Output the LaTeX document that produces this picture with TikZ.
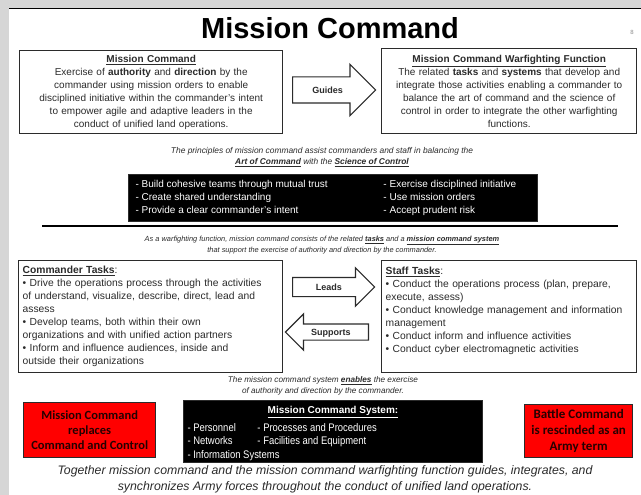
\documentclass[tikz,border=0pt]{standalone}
\usepackage{fontspec}
\setmainfont{Liberation Sans}
\newfontfamily\calibri{Carlito}
\newfontfamily\narrowfont[FakeStretch=0.86]{Liberation Sans}
\usetikzlibrary{shapes.arrows}
\definecolor{ink}{HTML}{2B2B2B}
\definecolor{pagegray}{HTML}{D6D6D6}
\definecolor{alertred}{HTML}{FF0000}
\begin{document}
\begin{tikzpicture}[x=1pt,y=-1pt]
  \tikzstyle{every node}=[text=ink,inner sep=0pt]
  \tikzstyle{box}=[draw=ink,line width=1.4pt,anchor=north west,inner sep=4pt,font=\fontsize{10}{13}\selectfont]
  \tikzstyle{taskbox}=[box,align=left,font=\fontsize{10.3}{13}\selectfont]
  \tikzstyle{note}=[align=center,font=\itshape\fontsize{7.4}{11}\selectfont]
  \tikzstyle{bigarrow}=[single arrow,draw=ink,line width=1.2pt,single arrow head indent=0pt,anchor=tail,text height=6.5pt,text depth=0pt,font=\bfseries\fontsize{9}{10}\selectfont]
  \tikzstyle{blackbox}=[fill=black,draw=ink,line width=1pt,text=white,anchor=north west]
  \tikzstyle{redbox}=[fill=alertred,draw=ink,line width=1.4pt,align=center,anchor=north west,text=black!85!red]
  \useasboundingbox (0,0) rectangle (641,495);
  \fill[white] (0,0) rectangle (641,495);
  \fill[pagegray] (0,0) rectangle (641,8);
  \fill[pagegray] (0,0) rectangle (9,495);
  \coordinate (top west) at (9,8.5);
  \coordinate (top east) at (641,8.5);
  \draw[line width=1.5pt,black] (top west) -- (top east);
  \node[font=\bfseries\fontsize{29}{30}\selectfont,text=black] (title) at (330,28) {Mission Command};
  \node[font=\fontsize{6}{7}\selectfont,text=black!45] (pagenum) at (632,32) {8};
  \node[box,align=center,minimum width=263pt,minimum height=83pt,text width=255pt] (mc) at (19,50)
    {\underline{\textbf{Mission Command}}\\
     Exercise of \textbf{authority} and \textbf{direction} by the\\
     commander using mission orders to enable\\
     disciplined initiative within the commander's intent\\
     to empower agile and adaptive leaders in the\\
     conduct of unified land operations.};
  \node[box,align=center,minimum width=255pt,minimum height=85pt,text width=247pt] (mcwf) at (381,48)
    {\underline{\textbf{Mission Command Warfighting Function}}\\
     The related \textbf{tasks} and \textbf{systems} that develop and\\
     integrate those activities enabling a commander to\\
     balance the art of command and the science of\\
     control in order to integrate the other warfighting\\
     functions.};
  \node[bigarrow,inner ysep=9.25pt,minimum height=83pt,single arrow head extend=12.5pt] (guides) at (292,90) {Guides};
  \node[note,font=\itshape\fontsize{8.4}{11}\selectfont] (principles note) at (322,157)
    {The principles of mission command assist commanders and staff in balancing the\\
     \underline{\textbf{Art of Command}} with the \underline{\textbf{Science of Control}}};
  \node[blackbox,minimum width=409pt,minimum height=47pt,font=\fontsize{10}{13}\selectfont] (principles) at (128,174)
    {\begin{tabular}{@{}p{248pt}@{}p{147pt}@{}}
     - Build cohesive teams through mutual trust & - Exercise disciplined initiative\\
     - Create shared understanding & - Use mission orders\\
     - Provide a clear commander's intent & - Accept prudent risk
     \end{tabular}};
  \coordinate (rule west) at (42,226);
  \coordinate (rule east) at (618,226);
  \draw[line width=2.5pt,black] (rule west) -- (rule east);
  \node[note] (function note) at (322,245)
    {As a warfighting function, mission command consists of the related \underline{\textbf{tasks}} and a \underline{\textbf{mission command system}}\\
     that support the exercise of authority and direction by the commander.};
  \node[taskbox,minimum width=264pt,minimum height=112pt,text width=256pt] (commander) at (18,260)
    {\underline{\textbf{Commander Tasks}}:\\
     • Drive the operations process through the activities\\
     of understand, visualize, describe, direct, lead and\\
     assess\\
     • Develop teams, both within their own\\
     organizations and with unified action partners\\
     • Inform and influence audiences, inside and\\
     outside their organizations};
  \node[taskbox,minimum width=255pt,minimum height=112pt,text width=247pt] (staff) at (381,260)
    {\underline{\textbf{Staff Tasks}}:\\
     • Conduct the operations process (plan, prepare,\\
     execute, assess)\\
     • Conduct knowledge management and information\\
     management\\
     • Conduct inform and influence activities\\
     • Conduct cyber electromagnetic activities\\
     \mbox{}};
  \node[bigarrow,inner ysep=5.75pt,minimum height=82pt,single arrow head extend=9.5pt] (leads) at (292,287) {Leads};
  \node[bigarrow,shape border rotate=180,inner ysep=4.25pt,minimum height=83pt,single arrow head extend=10pt] (supports) at (369,332) {Supports};
  \node[note,font=\itshape\fontsize{8.2}{11}\selectfont] (system note) at (323,386)
    {The mission command system \underline{\textbf{enables}} the exercise\\
     of authority and direction by the commander.};
  \node[redbox,minimum width=132pt,minimum height=55pt,font=\calibri\bfseries\fontsize{12.5}{15}\selectfont] (replaces) at (23,402)
    {Mission Command\\ replaces\\ Command and Control};
  \node[blackbox,minimum width=299pt,minimum height=62pt,font=\fontsize{10}{13.5}\selectfont] (mcsystem) at (183,400)
    {\begin{tabular}{@{}p{70pt}@{}p{221pt}@{}}
     \multicolumn{2}{@{}c@{}}{\rule{0pt}{13pt}\underline{\textbf{Mission Command System:}}}\\[4pt]
     \narrowfont\fontsize{11}{13.5}\selectfont - Personnel & \narrowfont\fontsize{11}{13.5}\selectfont - Processes and Procedures\\
     \narrowfont\fontsize{11}{13.5}\selectfont - Networks & \narrowfont\fontsize{11}{13.5}\selectfont - Facilities and Equipment\\
     \multicolumn{2}{@{}l@{}}{\narrowfont\fontsize{11}{13.5}\selectfont - Information Systems}
     \end{tabular}};
  \node[redbox,minimum width=108pt,minimum height=53pt,font=\calibri\bfseries\fontsize{13}{16}\selectfont] (rescinded) at (524,404)
    {Battle Command\\ is rescinded as an\\ Army term};
  \node[align=center,font=\itshape\fontsize{12.3}{16}\selectfont] (summary) at (325,479)
    {Together mission command and the mission command warfighting function guides, integrates, and\\
     synchronizes Army forces throughout the conduct of unified land operations.};
\end{tikzpicture}
\end{document}
